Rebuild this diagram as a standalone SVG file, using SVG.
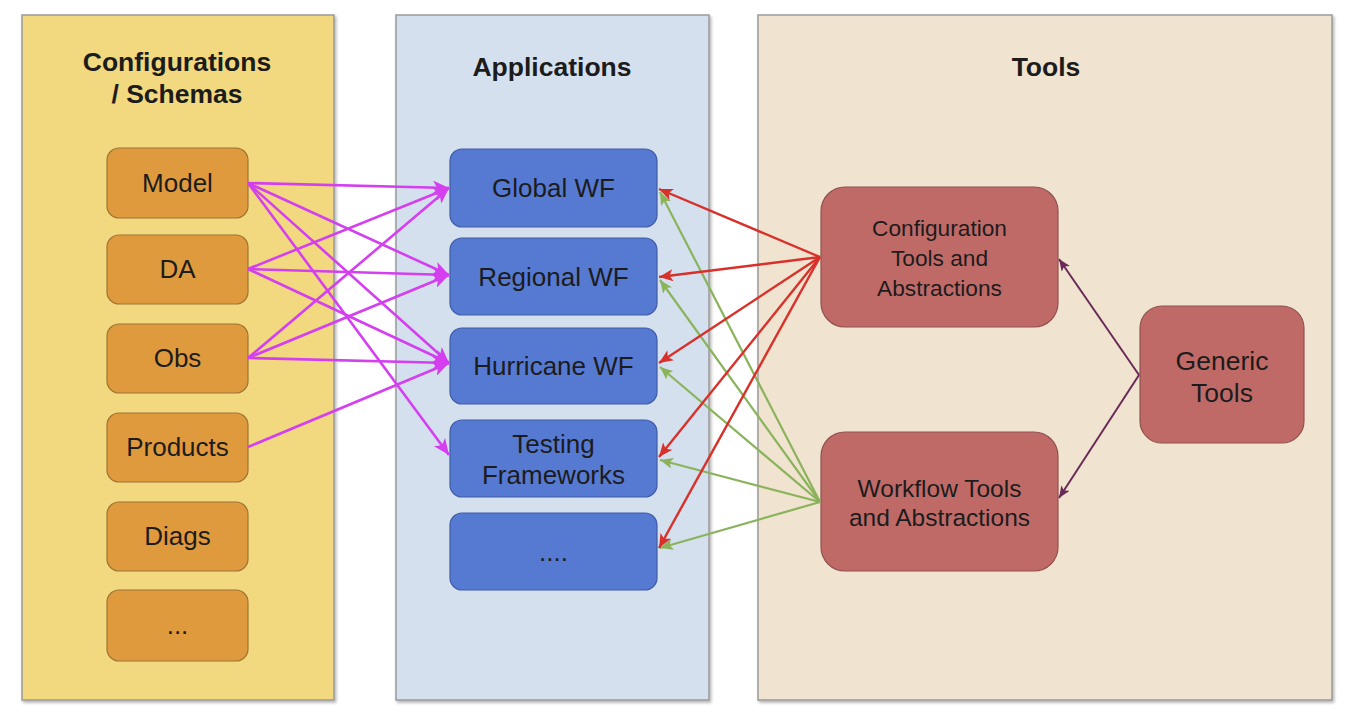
<svg xmlns="http://www.w3.org/2000/svg" width="1354" height="726" viewBox="0 0 1354 726">
<style>
  text { font-family: "Liberation Sans", Arial, sans-serif; fill: #1c1c1c; text-anchor: middle; }
  .title { font-size: 26.5px; font-weight: bold; }
  .lbl { font-size: 26px; }
  .lblG { font-size: 26.5px; }
  .lblS { font-size: 22.7px; }
  .lblM { font-size: 24.5px; }
  .panel { stroke: #9a9a9a; stroke-width: 1.5; filter: url(#sh); }
  .orange { fill: #e09a3e; stroke: #9c7536; stroke-width: 1.2; }
  .blue { fill: #5679d2; stroke: #3f5ca6; stroke-width: 1.2; }
  .red { fill: #c06a68; stroke: #8f5250; stroke-width: 1.2; }
  .mg { stroke: #d43ff0; stroke-width: 2.6; fill: none; marker-end: url(#amg); }
  .rd { stroke: #d8302a; stroke-width: 2.4; fill: none; marker-end: url(#ard); }
  .gr { stroke: #8ab35c; stroke-width: 2.2; fill: none; marker-end: url(#agr); }
  .pu { stroke: #6a2a58; stroke-width: 2; fill: none; marker-end: url(#apu); }
</style>
<defs>
  <filter id="sh" x="-5%" y="-5%" width="110%" height="110%">
    <feDropShadow dx="1.5" dy="2" stdDeviation="1.5" flood-color="#000" flood-opacity="0.3"/>
  </filter>
  <marker id="amg" markerUnits="userSpaceOnUse" markerWidth="18" markerHeight="14" refX="16" refY="7" orient="auto">
    <path d="M0,0 L16,7 L0,14 L4,7 z" fill="#d43ff0"/>
  </marker>
  <marker id="ard" markerUnits="userSpaceOnUse" markerWidth="16" markerHeight="12" refX="14" refY="6" orient="auto">
    <path d="M0,0 L14,6 L0,12 L3.5,6 z" fill="#d8302a"/>
  </marker>
  <marker id="agr" markerUnits="userSpaceOnUse" markerWidth="14" markerHeight="11" refX="13" refY="5.5" orient="auto">
    <path d="M0,0 L13,5.5 L0,11 L3,5.5 z" fill="#8ab35c"/>
  </marker>
  <marker id="apu" markerUnits="userSpaceOnUse" markerWidth="13" markerHeight="10" refX="12" refY="5" orient="auto">
    <path d="M0,0 L12,5 L0,10 L3,5 z" fill="#6a2a58"/>
  </marker>
</defs>
<rect width="1354" height="726" fill="#ffffff"/>

<g id="panel-configurations">
  <rect class="panel" x="22" y="15" width="312" height="685" fill="#f2d87e"/>
  <text class="title" x="177" y="71">Configurations</text>
  <text class="title" x="177" y="103">/ Schemas</text>
</g>
<g id="panel-applications">
  <rect class="panel" x="396" y="15" width="313" height="685" fill="#d5e0ef"/>
  <text class="title" x="552" y="76">Applications</text>
</g>
<g id="panel-tools">
  <rect class="panel" x="758" y="15" width="574" height="685" fill="#f0e3cf"/>
  <text class="title" x="1046" y="76">Tools</text>
</g>

<g id="node-model"><rect class="orange" x="107" y="148" width="141" height="70" rx="12"/><text class="lbl" x="177.5" y="192">Model</text></g>
<g id="node-da"><rect class="orange" x="107" y="235" width="141" height="69" rx="12"/><text class="lbl" x="177.5" y="278">DA</text></g>
<g id="node-obs"><rect class="orange" x="107" y="324" width="141" height="69" rx="12"/><text class="lbl" x="177.5" y="367">Obs</text></g>
<g id="node-products"><rect class="orange" x="107" y="413" width="141" height="69" rx="12"/><text class="lbl" x="177.5" y="456">Products</text></g>
<g id="node-diags"><rect class="orange" x="107" y="502" width="141" height="69" rx="12"/><text class="lbl" x="177.5" y="545">Diags</text></g>
<g id="node-more-config"><rect class="orange" x="107" y="590" width="141" height="71" rx="12"/><text class="lbl" x="177.5" y="634">...</text></g>

<g id="node-global-wf"><rect class="blue" x="450" y="149" width="207" height="78" rx="12"/><text class="lbl" x="553.5" y="197">Global WF</text></g>
<g id="node-regional-wf"><rect class="blue" x="450" y="238" width="207" height="77" rx="12"/><text class="lbl" x="553.5" y="286">Regional WF</text></g>
<g id="node-hurricane-wf"><rect class="blue" x="450" y="328" width="207" height="76" rx="12"/><text class="lbl" x="553.5" y="375">Hurricane WF</text></g>
<g id="node-testing"><rect class="blue" x="450" y="420" width="207" height="77" rx="12"/><text class="lbl" x="553.5" y="453">Testing</text><text class="lbl" x="553.5" y="484">Frameworks</text></g>
<g id="node-more-apps"><rect class="blue" x="450" y="513" width="207" height="77" rx="12"/><text class="lbl" x="553.5" y="561">....</text></g>

<g id="node-config-tools"><rect class="red" x="821" y="187" width="237" height="140" rx="24"/><text class="lblS" x="939.5" y="236">Configuration</text><text class="lblS" x="939.5" y="266">Tools and</text><text class="lblS" x="939.5" y="296">Abstractions</text></g>
<g id="node-workflow-tools"><rect class="red" x="821" y="432" width="237" height="139" rx="24"/><text class="lblM" x="939.5" y="497">Workflow Tools</text><text class="lblM" x="939.5" y="526">and Abstractions</text></g>
<g id="node-generic-tools"><rect class="red" x="1140" y="306" width="164" height="137" rx="22"/><text class="lblG" x="1222" y="370">Generic</text><text class="lblG" x="1222" y="402">Tools</text></g>

<g id="connectors">
  <line class="mg" x1="248" y1="183" x2="449" y2="188"/>
  <line class="mg" x1="248" y1="183" x2="449" y2="275"/>
  <line class="mg" x1="248" y1="183" x2="449" y2="363"/>
  <line class="mg" x1="248" y1="183" x2="449" y2="455"/>
  <line class="mg" x1="248" y1="269" x2="449" y2="188"/>
  <line class="mg" x1="248" y1="269" x2="449" y2="275"/>
  <line class="mg" x1="248" y1="269" x2="449" y2="363"/>
  <line class="mg" x1="248" y1="358" x2="449" y2="188"/>
  <line class="mg" x1="248" y1="358" x2="449" y2="275"/>
  <line class="mg" x1="248" y1="358" x2="449" y2="363"/>
  <line class="mg" x1="248" y1="447" x2="449" y2="363"/>

  <line class="gr" x1="820" y1="502" x2="660" y2="192"/>
  <line class="gr" x1="820" y1="502" x2="660" y2="280"/>
  <line class="gr" x1="820" y1="502" x2="660" y2="367"/>
  <line class="gr" x1="820" y1="502" x2="660" y2="460"/>
  <line class="gr" x1="820" y1="502" x2="660" y2="548"/>

  <line class="rd" x1="820" y1="257" x2="659" y2="189"/>
  <line class="rd" x1="820" y1="257" x2="659" y2="277"/>
  <line class="rd" x1="820" y1="257" x2="659" y2="363"/>
  <line class="rd" x1="820" y1="257" x2="659" y2="457"/>
  <line class="rd" x1="820" y1="257" x2="659" y2="548"/>

  <line class="pu" x1="1139" y1="375" x2="1059" y2="259"/>
  <line class="pu" x1="1139" y1="375" x2="1059" y2="498"/>
</g>
</svg>
